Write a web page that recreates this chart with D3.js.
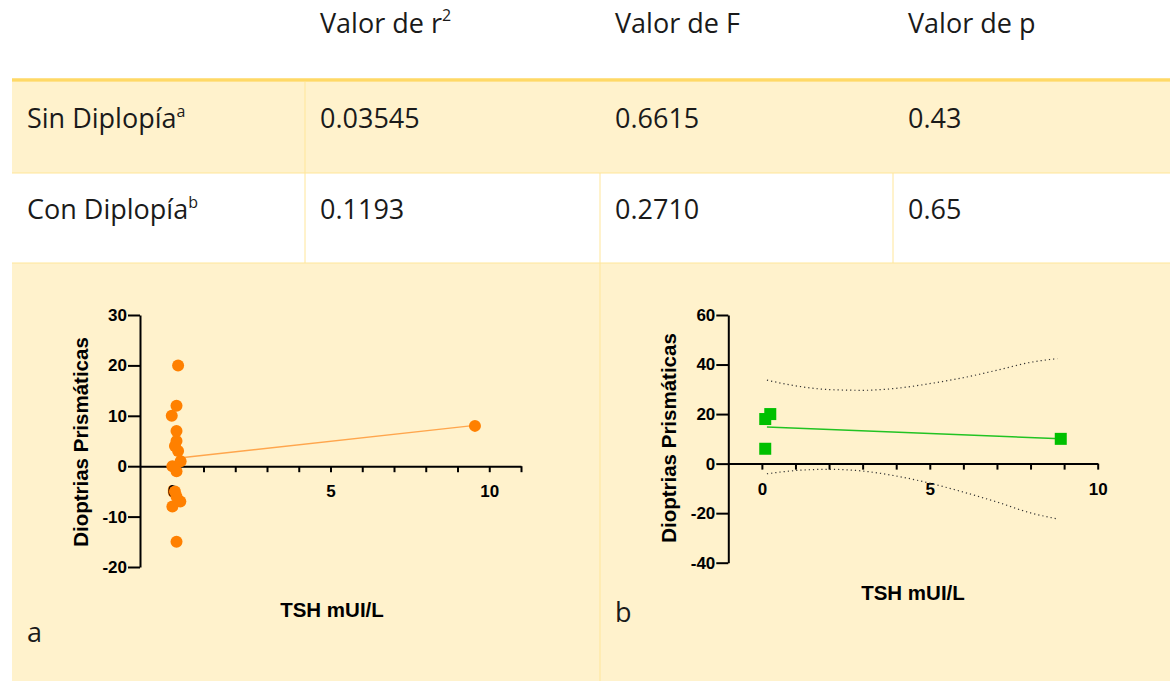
<!DOCTYPE html>
<html>
<head>
<meta charset="utf-8">
<script src="https://cdn.jsdelivr.net/npm/d3@7"></script>
<style>
body{margin:0;background:#fff}
svg{display:block}
.tbl{font-family:"Open Sans","Noto Sans",sans-serif;font-size:27px;fill:#1a1a1a}
.ax path,.ax line{stroke:#000;stroke-width:2}
.title{font-family:"Liberation Sans",Arial,sans-serif;font-weight:bold;font-size:20.5px;fill:#000}
</style>
</head>
<body>
<svg id="page"></svg>
<script>
var screen = {width:1170,height:681}

// table
var headers = ["Valor de r", "Valor de F", "Valor de p"]
var rowNames = ["Sin Diplopía", "Con Diplopía"]
var rowSup = ["a", "b"]
var r2Values = ["0.03545", "0.1193"]
var fValues = ["0.6615", "0.2710"]
var pValues = ["0.43", "0.65"]

// panel a: sin diplopia
var tshA = [0.2, 0.15, 0.0, 0.15, 0.15, 0.1, 0.2, 0.28, 0.02, 0.15, 0.1, 0.15, 0.27, 0.02, 0.15, 9.55]
var dpA  = [20, 12, 10, 7, 5, 4, 3, 1, 0, -1, -5, -6, -7, -8, -15, 8]
var fitA = [[0.3, 1.7], [9.55, 8.1]]

// panel b: con diplopia
var tshB = [0.1, 0.25, 0.1, 8.9]
var dpB  = [18, 20, 6, 10]
var fitB = [[0.15, 14.8], [8.9, 10.0]]
var ciX     = [0.15, 1, 2, 3, 4, 5, 6, 7, 8, 8.8]
var ciUpper = [33.7, 31.4, 29.9, 29.6, 30.4, 32.3, 34.7, 37.7, 40.9, 42.4]
var ciLower = [-4.1, -2.8, -2.3, -3.0, -5.0, -7.9, -11.5, -15.5, -19.9, -22.3]

var svg = d3.select("#page")
  .attr("width",screen.width)
  .attr("height",screen.height)

var yellow = "#fff2cc"
var border = "#ffe699"
var colX = [12, 305, 600, 893, 1170]

// backgrounds
svg.append("rect").attr("x",12).attr("y",82).attr("width",1158).attr("height",91).attr("fill",yellow)
svg.append("rect").attr("x",12).attr("y",263).attr("width",1158).attr("height",418).attr("fill",yellow)

// borders
var lines = [
  [12,173,1170,173],[12,263,1170,263],
  [305,82,305,263],[600,173,600,681],[893,173,893,263]
]
svg.selectAll("line.border").data(lines).enter().append("line")
  .attr("class","border")
  .attr("x1",function(d){return d[0]}).attr("y1",function(d){return d[1]})
  .attr("x2",function(d){return d[2]}).attr("y2",function(d){return d[3]})
  .attr("stroke",border).attr("stroke-width",1)
svg.append("line").attr("x1",12).attr("x2",1170).attr("y1",80).attr("y2",80)
  .attr("stroke","#ffd966").attr("stroke-width",3.5)

// header text
var head = svg.selectAll("text.head").data(headers).enter().append("text")
  .attr("class","tbl head")
  .attr("x",function(d,i){return colX[i+1]+15})
  .attr("y",33)
  .text(function(d){return d})
head.filter(function(d,i){return i==0}).append("tspan")
  .attr("font-size","16px").attr("dy",-12).text("2")

// rows
var rowY = [128, 219]
rowNames.forEach(function(name,i){
  var t = svg.append("text").attr("class","tbl").attr("x",27).attr("y",rowY[i]).text(name)
  t.append("tspan").attr("font-size","16px").attr("dy",-11).text(rowSup[i])
  var vals = [r2Values[i], fValues[i], pValues[i]]
  vals.forEach(function(v,j){
    svg.append("text").attr("class","tbl").attr("x",colX[j+1]+15).attr("y",rowY[i]).text(v)
  })
})

svg.append("text").attr("class","tbl").attr("x",27).attr("y",642).text("a")
svg.append("text").attr("class","tbl").attr("x",615).attr("y",622).text("b")

var drawPanel = function(opt)
{
  var g = svg.append("g")
  var xScale = d3.scaleLinear().domain(opt.xDomain).range(opt.xRange)
  var yScale = d3.scaleLinear().domain(opt.yDomain).range(opt.yRange)

  var xAxis = d3.axisBottom(xScale)
    .tickValues(d3.range(0, opt.xDomain[1]+1))
    .tickFormat(function(d){return d%5==0 ? d : ""})
    .tickSize(6).tickSizeOuter(0).tickPadding(13)
  var yAxis = d3.axisLeft(yScale)
    .tickValues(opt.yTicks)
    .tickFormat(function(d){return String(d)})
    .tickSize(12).tickSizeOuter(0).tickPadding(1)

  g.append("g").attr("class","ax")
    .attr("transform","translate(0,"+yScale(0)+")")
    .call(xAxis)
  g.append("g").attr("class","ax")
    .attr("transform","translate("+opt.xRange[0]+",0)")
    .call(yAxis)
  g.selectAll(".ax")
    .attr("font-family","'Liberation Sans', Arial, sans-serif")
    .attr("font-size",17)
    .attr("font-weight","bold")
  g.selectAll(".ax text").attr("fill","#000")

  g.append("text").attr("class","title")
    .attr("text-anchor","middle")
    .attr("transform","translate("+opt.yTitle[0]+","+opt.yTitle[1]+") rotate(-90)")
    .text("Dioptrias Prismáticas")
  g.append("text").attr("class","title")
    .attr("text-anchor","middle")
    .attr("x",opt.xTitle[0]).attr("y",opt.xTitle[1])
    .text("TSH mUI/L")
  return {g:g, x:xScale, y:yScale}
}

// panel a
var pa = drawPanel({xDomain:[-1,11], xRange:[140,521], yDomain:[-20,30], yRange:[567,315],
  yTicks:[-20,-10,0,10,20,30], yTitle:[88,442], xTitle:[332,617]})
pa.g.append("path")
  .datum(fitA)
  .attr("d",d3.line().x(function(d){return pa.x(d[0])}).y(function(d){return pa.y(d[1])}))
  .attr("fill","none").attr("stroke","#ffa64d").attr("stroke-width",1.5)
pa.g.selectAll("circle").data(tshA).enter().append("circle")
  .attr("cx",function(d){return pa.x(d)})
  .attr("cy",function(d,i){return pa.y(dpA[i])})
  .attr("r",6)
  .attr("fill","#ff8000")

// panel b
var pb = drawPanel({xDomain:[-1,10], xRange:[728.3,1097.7], yDomain:[-40,60], yRange:[562.7,315],
  yTicks:[-40,-20,0,20,40,60], yTitle:[676,438], xTitle:[913,600]})
var ciLine = d3.line().curve(d3.curveMonotoneX)
  .x(function(d){return pb.x(d[0])}).y(function(d){return pb.y(d[1])})
;[ciUpper, ciLower].forEach(function(arr){
  pb.g.append("path")
    .datum(ciX.map(function(x,i){return [x,arr[i]]}))
    .attr("d",ciLine)
    .attr("fill","none").attr("stroke","#333").attr("stroke-width",1.2)
    .attr("stroke-dasharray","1.2,3")
})
pb.g.append("path")
  .datum(fitB)
  .attr("d",d3.line().x(function(d){return pb.x(d[0])}).y(function(d){return pb.y(d[1])}))
  .attr("fill","none").attr("stroke","#22c322").attr("stroke-width",1.5)
pb.g.selectAll("rect").data(tshB).enter().append("rect")
  .attr("x",function(d){return pb.x(d)-6})
  .attr("y",function(d,i){return pb.y(dpB[i])-6})
  .attr("width",12).attr("height",12)
  .attr("fill","#00c000")
</script>
</body>
</html>
